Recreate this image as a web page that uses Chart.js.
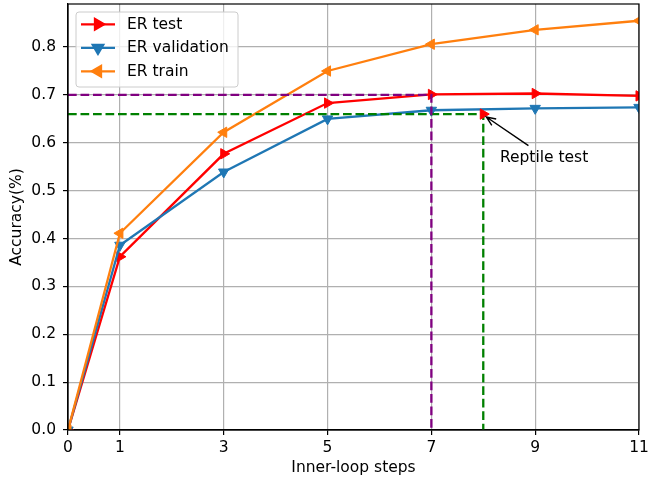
<!DOCTYPE html>
<html>
<head>
<meta charset="utf-8">
<script src="https://cdn.jsdelivr.net/npm/chart.js@4.4.1/dist/chart.umd.min.js"></script>
<style>
  body { margin: 0; background: #fff; }
</style>
</head>
<body>
<canvas id="out" width="648" height="477"></canvas>
<script>
const steps = [0, 1, 3, 5, 7, 9, 11];
const erTest = [0.0, 0.362, 0.577, 0.683, 0.701, 0.703, 0.698];
const erValidation = [0.0, 0.386, 0.539, 0.650, 0.668, 0.672, 0.674];
const erTrain = [0.0, 0.411, 0.622, 0.750, 0.806, 0.836, 0.855];
const xTicks = [0, 1, 3, 5, 7, 9, 11];

// reference markers
const bestStep = 7, bestAcc = 0.70;       // purple
const reptileStep = 8, reptileAcc = 0.66; // green + red marker
const noteText = "Reptile test";
const noteTextAt = [8.32, 0.568];
const noteArrowFrom = [8.87, 0.594];
const noteArrowTo = [8.06, 0.654];

const FONT = "DejaVu Sans";
const FS = 15.5;

function pts(xs, ys) {
  return xs.map((x, i) => ({x: x, y: ys[i]}));
}

function series(label, values, color, rotation, order) {
  return {
    label: label,
    data: pts(steps, values),
    borderColor: color,
    backgroundColor: color,
    borderWidth: 2.3,
    pointStyle: "triangle",
    rotation: rotation,
    pointRadius: 6,
    pointBorderWidth: 1,
    tension: 0,
    clip: 0,
    order: order,
    inLegend: true
  };
}

function guide(color, step, acc, order) {
  return {
    data: [{x: 0, y: acc}, {x: step, y: acc}, {x: step, y: 0}],
    borderColor: color,
    borderWidth: 2.3,
    borderDash: [8.7, 3.8],
    pointRadius: 0,
    tension: 0,
    clip: 0,
    order: order
  };
}

const framePlugin = {
  id: "frame",
  afterDatasetsDraw(chart) {
    const ctx = chart.ctx;
    const a = chart.chartArea;
    const xs = chart.scales.x, ys = chart.scales.y;
    ctx.save();
    ctx.strokeStyle = "#000";
    ctx.lineWidth = 1.2;
    ctx.strokeRect(a.left, a.top, a.right - a.left, a.bottom - a.top);

    // annotation
    const x1 = xs.getPixelForValue(noteArrowFrom[0]), y1 = ys.getPixelForValue(noteArrowFrom[1]);
    const x2 = xs.getPixelForValue(noteArrowTo[0]), y2 = ys.getPixelForValue(noteArrowTo[1]);
    ctx.lineWidth = 1.4;
    ctx.beginPath();
    ctx.moveTo(x1, y1);
    ctx.lineTo(x2, y2);
    const ang = Math.atan2(y1 - y2, x1 - x2);
    const hl = 10;
    ctx.moveTo(x2 + hl * Math.cos(ang + 0.4), y2 + hl * Math.sin(ang + 0.4));
    ctx.lineTo(x2, y2);
    ctx.lineTo(x2 + hl * Math.cos(ang - 0.4), y2 + hl * Math.sin(ang - 0.4));
    ctx.stroke();
    ctx.fillStyle = "#000";
    ctx.font = FS + "px '" + FONT + "'";
    ctx.textAlign = "left";
    ctx.textBaseline = "middle";
    ctx.fillText(noteText, xs.getPixelForValue(noteTextAt[0]), ys.getPixelForValue(noteTextAt[1]));

    // legend
    const bx = 76, by = 12, bw = 162, bh = 75;
    ctx.beginPath();
    ctx.roundRect(bx, by, bw, bh, 3);
    ctx.fillStyle = "rgba(255,255,255,0.8)";
    ctx.fill();
    ctx.strokeStyle = "#cccccc";
    ctx.lineWidth = 1;
    ctx.stroke();
    const items = chart.data.datasets.filter(d => d.inLegend);
    items.forEach((d, i) => {
      const cy = 24.3 + i * 23.5;
      ctx.strokeStyle = d.borderColor;
      ctx.lineWidth = 2.3;
      ctx.beginPath();
      ctx.moveTo(81, cy);
      ctx.lineTo(115, cy);
      ctx.stroke();
      Chart.helpers.drawPoint(ctx, {pointStyle: "triangle", rotation: d.rotation, radius: 6, borderWidth: 1}, 98, cy);
      ctx.fillStyle = d.borderColor;
      ctx.fill();
      ctx.lineWidth = 1;
      ctx.stroke();
      ctx.fillStyle = "#000";
      ctx.font = FS + "px '" + FONT + "'";
      ctx.textAlign = "left";
      ctx.textBaseline = "middle";
      ctx.fillText(d.label, 127, cy + 0.5);
    });
    ctx.restore();
  }
};

const canvasCtx = document.getElementById("out").getContext("2d");

const chartConfig = {
  type: "line",
  data: {
    datasets: [
      series("ER test", erTest, "#ff0000", 90, 4),
      series("ER validation", erValidation, "#1f77b4", 180, 3),
      series("ER train", erTrain, "#ff7f0e", 270, 2),
      guide("#800080", bestStep, bestAcc, 1),
      guide("#008000", reptileStep, reptileAcc, 1),
      {
        data: [{x: reptileStep, y: reptileAcc}],
        showLine: false,
        pointStyle: "triangle",
        rotation: 90,
        pointRadius: 6,
        pointBorderWidth: 1,
        borderColor: "#ff0000",
        backgroundColor: "#ff0000",
        clip: 0,
        order: 0
      }
    ]
  },
  options: {
    responsive: false,
    devicePixelRatio: 1,
    animation: false,
    layout: {autoPadding: false, padding: {top: 4, right: 9, bottom: 0, left: 0}},
    plugins: {legend: {display: false}, tooltip: {enabled: false}},
    scales: {
      x: {
        type: "linear",
        min: 0,
        max: 11,
        afterBuildTicks: s => { s.ticks = xTicks.map(v => ({value: v})); },
        afterFit: s => { s.height = 47; s.paddingLeft = 0; s.paddingRight = 0; },
        grid: {color: "#b0b0b0", lineWidth: 1.2, tickColor: "#000", tickLength: 5},
        border: {color: "#000", width: 1.2},
        ticks: {color: "#000", padding: 4, maxRotation: 0, autoSkip: false,
          font: {family: FONT, size: FS}, callback: v => String(v)},
        title: {display: true, text: "Inner-loop steps", color: "#000",
          font: {family: FONT, size: FS}, padding: {top: 0, bottom: 0}}
      },
      y: {
        min: 0,
        max: 0.89,
        afterFit: s => { s.width = 68; s.paddingTop = 0; s.paddingBottom = 0; },
        grid: {color: "#b0b0b0", lineWidth: 1.2, tickColor: "#000", tickLength: 5},
        border: {color: "#000", width: 1.2},
        ticks: {color: "#000", padding: 7, stepSize: 0.1, includeBounds: false,
          font: {family: FONT, size: FS}, callback: v => Number(v).toFixed(1)},
        title: {display: true, text: "Accuracy(%)", color: "#000",
          font: {family: FONT, size: FS}, padding: {top: 8, bottom: 0}}
      }
    }
  },
  plugins: [framePlugin]
};

window.chart = new Chart(canvasCtx, chartConfig);
</script>
</body>
</html>
